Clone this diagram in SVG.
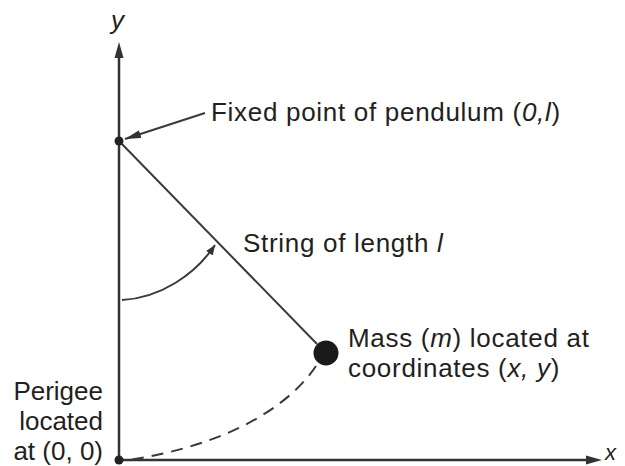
<svg xmlns="http://www.w3.org/2000/svg" width="625" height="466" viewBox="0 0 625 466">
<style>
.t{font-family:"Liberation Sans",Arial,sans-serif;font-size:26px;fill:#231f20}
.w{letter-spacing:0.7px}
.i{font-style:italic}
.ln{stroke:#3a3a3a;stroke-width:2;fill:none}
.ax{stroke:#333;stroke-width:2.5;fill:none}
</style>
<defs>
<marker id="ah" viewBox="0 0 16 8" refX="16" refY="4" markerWidth="16" markerHeight="8" markerUnits="userSpaceOnUse" orient="auto">
<path d="M0,0 L16,4 L0,8 Z" fill="#333"/>
</marker>
<marker id="ahs" viewBox="0 0 10 8" refX="10" refY="4" markerWidth="10" markerHeight="8" markerUnits="userSpaceOnUse" orient="auto">
<path d="M0,0 L10,4 L0,8 Z" fill="#333"/>
</marker>
</defs>
<g id="axes">
<line class="ax" x1="119" y1="460" x2="119" y2="56"/>
<path d="M119,42 L123.5,58 L114.5,58 Z" fill="#333"/>
<line class="ax" x1="119" y1="460" x2="588" y2="460"/>
<path d="M602,460 L586,455.5 L586,464.5 Z" fill="#333"/>
<text class="t i" x="111" y="29">y</text>
<text class="t i" x="605" y="460" style="font-size:22px">x</text>
</g>
<g id="connectors">
<line class="ln" x1="119" y1="141" x2="317" y2="344"/>
<line class="ln" x1="205" y1="113" x2="125" y2="139" marker-end="url(#ah)"/>
<path class="ln" d="M122,300 C160,298 195,275 215,245" marker-end="url(#ahs)"/>
<path class="ln" d="M316,366 C290,405 230,445 128,460" stroke-dasharray="12,8" stroke="#444"/>
</g>
<g id="pivot">
<circle cx="119" cy="141" r="4.5" fill="#222"/>
<text class="t w" x="211" y="121">Fixed point of pendulum (<tspan class="i">0,l</tspan>)</text>
</g>
<g id="string">
<text class="t w" x="243" y="252">String of length <tspan class="i">l</tspan></text>
</g>
<g id="mass">
<circle cx="326" cy="353" r="12.5" fill="#1a1a1a"/>
<text class="t w" x="348" y="347">Mass (<tspan class="i">m</tspan>) located at</text>
<text class="t w" x="348" y="377">coordinates (<tspan class="i">x, y</tspan>)</text>
</g>
<g id="origin">
<circle cx="119" cy="460" r="4.5" fill="#222"/>
<text class="t" x="103" y="400" text-anchor="end">Perigee</text>
<text class="t" x="103" y="430" text-anchor="end">located</text>
<text class="t" x="103" y="460" text-anchor="end">at (0, 0)</text>
</g>
</svg>
